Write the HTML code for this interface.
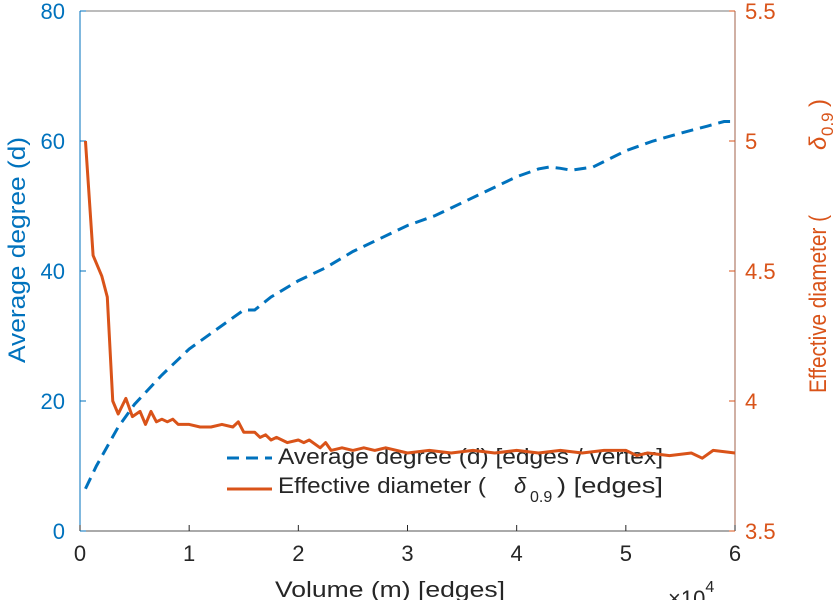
<!DOCTYPE html>
<html><head><meta charset="utf-8"><style>
body{margin:0;background:#fff;}
svg text{font-family:"Liberation Sans",sans-serif;}
</style></head><body>
<svg width="838" height="600">
<g id="axes"></g>
<g>
 <line x1="227" y1="458" x2="272" y2="458" stroke="#0072BD" stroke-width="3" stroke-dasharray="12,7"/>
 <text x="278" y="464" font-size="22" textLength="385" lengthAdjust="spacingAndGlyphs" fill="#262626">Average degree (d) [edges / vertex]</text>
 <line x1="227" y1="489" x2="272" y2="489" stroke="#D95319" stroke-width="3"/>
 <g fill="#262626" font-size="22">
  <text x="278" y="493" textLength="208" lengthAdjust="spacingAndGlyphs">Effective diameter (</text>
  <text x="514" y="493" font-style="italic">δ</text>
  <text x="530" y="502" font-size="16">0.9</text>
  <text x="557" y="493" textLength="106" lengthAdjust="spacingAndGlyphs">) [edges]</text>
 </g>
</g>
<g id="series"></g>
<text x="390" y="597" font-size="22" textLength="230" lengthAdjust="spacingAndGlyphs" fill="#262626" text-anchor="middle">Volume (m) [edges]</text>
<text x="668" y="606" font-size="22" fill="#262626">×10<tspan font-size="16" dy="-14">4</tspan></text>
<text transform="translate(25,250) rotate(-90)" font-size="24" textLength="226" lengthAdjust="spacingAndGlyphs" fill="#0072BD" text-anchor="middle">Average degree (d)</text>
<g transform="translate(826,393) rotate(-90)" fill="#D95319" font-size="24">
 <text x="0" y="0" textLength="178" lengthAdjust="spacingAndGlyphs">Effective diameter (</text>
 <text x="243" y="0" font-style="italic">δ</text>
 <text x="257" y="7" font-size="17">0.9</text>
 <text x="286" y="0">)</text>
</g>
</svg>
<script>
const xTicks=[0,1,2,3,4,5,6];
const leftTicks=[0,20,40,60,80];
const rightTicks=[3.5,4,4.5,5,5.5];
const degX=[0.05,0.15,0.25,0.35,0.5,0.75,1.0,1.25,1.5,1.6,1.75,2.0,2.25,2.5,2.75,3.0,3.25,3.5,3.75,4.0,4.2,4.3,4.4,4.5,4.7,5.0,5.25,5.5,5.75,5.9,6.0];
const degY=[6.5,10,13,16,19.5,24,28,31,34,34,36,38.5,40.5,43,45,47,48.5,50.5,52.5,54.5,55.7,56,55.8,55.5,56,58.5,60,61.2,62.3,63,63];
const diaX=[0.05,0.12,0.2,0.25,0.3,0.35,0.42,0.48,0.55,0.6,0.65,0.7,0.75,0.8,0.85,0.9,1.0,1.1,1.2,1.3,1.4,1.45,1.5,1.6,1.65,1.7,1.75,1.8,1.9,2.0,2.05,2.1,2.2,2.25,2.3,2.4,2.5,2.6,2.7,2.8,3.0,3.2,3.4,3.6,3.8,4.0,4.2,4.4,4.6,4.8,5.0,5.1,5.2,5.4,5.6,5.7,5.8,6.0];
const diaY=[5.0,4.56,4.48,4.4,4.0,3.95,4.01,3.94,3.96,3.91,3.96,3.92,3.93,3.92,3.93,3.91,3.91,3.9,3.9,3.91,3.9,3.92,3.88,3.88,3.86,3.87,3.85,3.86,3.84,3.85,3.84,3.85,3.82,3.84,3.81,3.82,3.81,3.82,3.81,3.82,3.8,3.81,3.8,3.81,3.8,3.81,3.8,3.81,3.8,3.81,3.81,3.79,3.8,3.79,3.8,3.78,3.81,3.8];
const NS='http://www.w3.org/2000/svg';
const X0=80,X1=735,Y0=531,Y1=11;
const sx=v=>X0+(v-0)/(6-0)*(X1-X0);
const syL=v=>Y0-(v-0)/80*(Y0-Y1);
const syR=v=>Y0-(v-3.5)/2*(Y0-Y1);
const axes=document.getElementById('axes'),series=document.getElementById('series');
function mk(tag,attrs,parent){const e=document.createElementNS(NS,tag);for(const k in attrs)e.setAttribute(k,attrs[k]);parent.appendChild(e);return e;}
let e;
e=mk('line',{x1:X0,y1:Y1,x2:X1,y2:Y1,stroke:'#7a7a7a','stroke-width':1},axes);


e=mk('line',{x1:X0,y1:Y0,x2:X1,y2:Y0,stroke:'#555','stroke-width':1},axes);


e=mk('line',{x1:X0,y1:Y0,x2:X0,y2:Y1,stroke:'#0072BD','stroke-width':1},axes);


e=mk('line',{x1:X1,y1:Y0,x2:X1,y2:Y1,stroke:'#a0604a','stroke-width':1},axes);


xTicks.forEach(t=>{
 const x=sx(t);
 mk('line',{x1:x,y1:Y0,x2:x,y2:Y0-6,stroke:'#262626'},axes);
 e=mk('text',{x:x,y:561,'font-size':22,fill:'#262626','text-anchor':'middle'},axes);e.textContent=t;
 
 
});
leftTicks.forEach(t=>{
 const y=syL(t);
 mk('line',{x1:X0,y1:y,x2:X0+6,y2:y,stroke:'#0072BD'},axes);
 e=mk('text',{x:X0-15,y:y+8,'font-size':22,fill:'#0072BD','text-anchor':'end'},axes);e.textContent=t;
 
 
});
rightTicks.forEach(t=>{
 const y=syR(t);
 mk('line',{x1:X1,y1:y,x2:X1-6,y2:y,stroke:'#D95319'},axes);
 e=mk('text',{x:X1+10,y:y+8,'font-size':22,fill:'#D95319'},axes);e.textContent=t;
 
 
});
e=mk('polyline',{points:diaX.map((v,i)=>sx(v)+','+syR(diaY[i])).join(' '),fill:'none',stroke:'#D95319','stroke-width':3,'stroke-linejoin':'round'},series);


e=mk('polyline',{points:degX.map((v,i)=>sx(v)+','+syL(degY[i])).join(' '),fill:'none',stroke:'#0072BD','stroke-width':3,'stroke-dasharray':'12,7'},series);


</script>
</body></html>
